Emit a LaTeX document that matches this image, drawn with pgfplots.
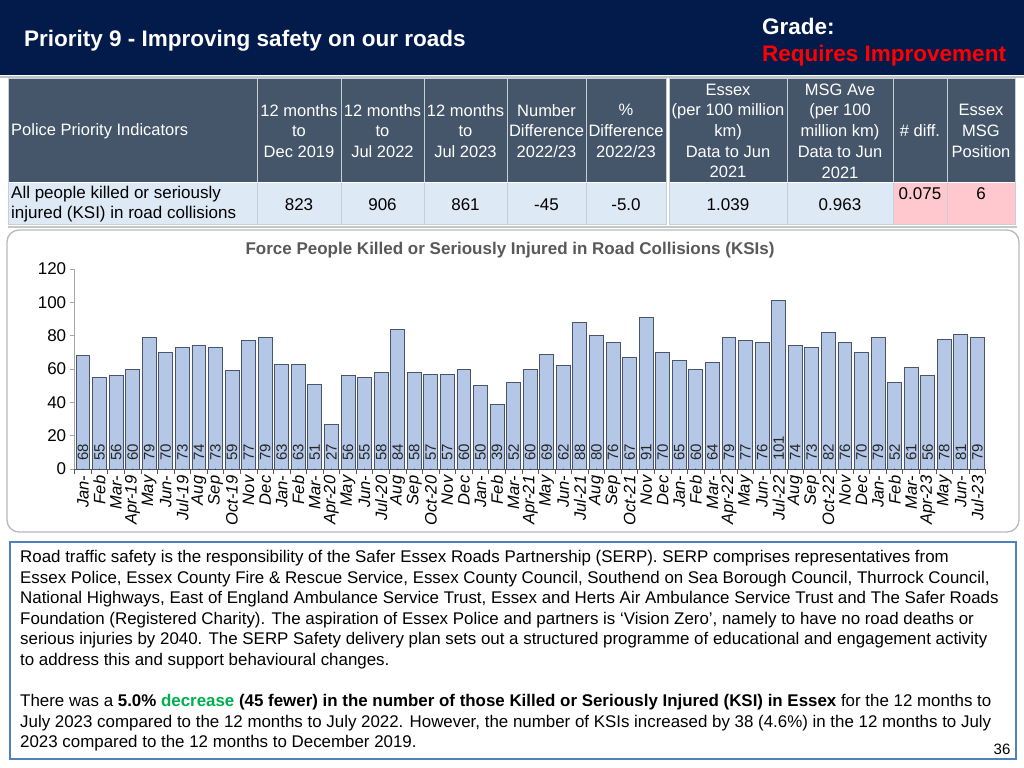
\documentclass[border=0pt]{standalone}
\usepackage{fontspec}
\setmainfont{Liberation Sans}
\usepackage{pgfplots}
\usepackage{pgfplotstable}
\pgfplotsset{compat=1.18}
\definecolor{navy}{RGB}{2,27,75}
\definecolor{hdr}{RGB}{69,85,106}
\definecolor{rowbg}{RGB}{221,233,245}
\definecolor{pinkc}{RGB}{255,199,206}
\definecolor{barfill}{RGB}{180,199,231}
\definecolor{bardraw}{RGB}{75,85,105}
\definecolor{titlegray}{RGB}{89,89,89}
\definecolor{boxblue}{RGB}{79,129,189}
\definecolor{greenw}{RGB}{0,176,80}
\definecolor{sepc}{RGB}{200,206,216}
\newcommand\fs[2]{\fontsize{#1bp}{#2bp}\selectfont}
\pgfplotstableread{
idx v z
0 68 0
1 55 0
2 56 0
3 60 0
4 79 0
5 70 0
6 73 0
7 74 0
8 73 0
9 59 0
10 77 0
11 79 0
12 63 0
13 63 0
14 51 0
15 27 0
16 56 0
17 55 0
18 58 0
19 84 0
20 58 0
21 57 0
22 57 0
23 60 0
24 50 0
25 39 0
26 52 0
27 60 0
28 69 0
29 62 0
30 88 0
31 80 0
32 76 0
33 67 0
34 91 0
35 70 0
36 65 0
37 60 0
38 64 0
39 79 0
40 77 0
41 76 0
42 101 0
43 74 0
44 73 0
45 82 0
46 76 0
47 70 0
48 79 0
49 52 0
50 61 0
51 56 0
52 78 0
53 81 0
54 79 0
}\ksidata
\begin{document}
\begin{tikzpicture}[x=1bp,y=-1bp]
\useasboundingbox (0,0) rectangle (1024,768);
\fill[white] (0,0) rectangle (1024,768);
% header band
\fill[navy] (0,0) rectangle (1024,75);
\draw[line width=2bp, color={rgb,255:red,190;green,195;blue,200}] (0,77) -- (1024,77);
\node[anchor=base west, inner sep=0pt, text=white, font=\fs{22.5}{26}\bfseries] at (24,47) {Priority 9 - Improving safety on our roads};
\node[anchor=base west, inner sep=0pt, text=white, font=\fs{22.5}{26}\bfseries] at (762,35) {Grade:};
\node[anchor=base west, inner sep=0pt, text=red, font=\fs{22.5}{26}\bfseries] at (762,62) {Requires Improvement};
% table
\fill[hdr] (8,79) rectangle (666,182);
\fill[hdr] (669,79) rectangle (1015,182);
\fill[rowbg] (8,182) rectangle (666,224);
\fill[rowbg] (669,182) rectangle (893,224);
\fill[pinkc] (893,182) rectangle (1015,224);
\foreach \xx in {257,341,424,507,586} {\draw[sepc, line width=1bp] (\xx,79) -- (\xx,224);}
\foreach \xx in {787,893,947} {\draw[sepc, line width=1bp] (\xx,79) -- (\xx,224);}
\draw[white, line width=1bp] (8,182) -- (666,182);
\draw[white, line width=1bp] (669,182) -- (1015,182);
\draw[sepc, line width=1bp] (8,79) rectangle (666,224);
\draw[sepc, line width=1bp] (669,79) rectangle (1015,224);
\draw[gray!45, line width=2bp] (8,227) -- (1017,227);
\begin{scope}[every node/.style={align=center, text=white, font=\fs{16.5}{20.7}, inner sep=0pt}]
\node[anchor=west] at (11,131) {Police Priority Indicators};
\node at (299,131) {12 months\\to\\Dec 2019};
\node at (382.5,131) {12 months\\to\\Jul 2022};
\node at (465.5,131) {12 months\\to\\Jul 2023};
\node at (546.5,131) {Number\\Difference\\2022/23};
\node at (626,131) {\%\\Difference\\2022/23};
\node at (728,131) {Essex\\(per 100 million\\km)\\Data to Jun\\2021};
\node at (840,131) {MSG Ave\\(per 100\\million km)\\Data to Jun\\2021};
\node at (920,131) {\# diff.};
\node at (981,131) {Essex\\MSG\\Position};
\end{scope}
\begin{scope}[every node/.style={align=center, text=black, font=\fs{17}{20.5}, inner sep=0pt}]
\node[anchor=west, align=left] at (11,204) {All people killed or seriously\\injured (KSI) in road collisions};
\node at (299,205) {823};
\node at (382.5,205) {906};
\node at (465.5,205) {861};
\node at (546.5,205) {-45};
\node at (626,205) {-5.0};
\node at (728,205) {1.039};
\node at (840,205) {0.963};
\node at (920,194) {0.075};
\node at (981,194) {6};
\end{scope}
% chart panel
\draw[gray!55, line width=1.3bp, rounded corners=12bp, fill=white] (7,230) rectangle (1019,532);
\node[font=\fs{17}{17}\bfseries, text=titlegray] at (510,250) {Force People Killed or Seriously Injured in Road Collisions (KSIs)};
\begin{axis}[
  at={(74.7bp,-469bp)}, anchor=south west,
  scale only axis, width=911bp, height=200bp,
  xmin=-0.5, xmax=54.5, ymin=0, ymax=120,
  axis x line*=bottom, axis y line*=left,
  x axis line style={-, draw=black!65, line width=0.8bp},
  y axis line style={-, draw=black!35, line width=0.8bp},
  xtick={0,...,54},
  xticklabels={Jan-,Feb,Mar-,Apr-19,May,Jun-,Jul-19,Aug,Sep,Oct-19,Nov,Dec,
    Jan-,Feb,Mar-,Apr-20,May,Jun-,Jul-20,Aug,Sep,Oct-20,Nov,Dec,
    Jan-,Feb,Mar-,Apr-21,May,Jun-,Jul-21,Aug,Sep,Oct-21,Nov,Dec,
    Jan-,Feb,Mar-,Apr-22,May,Jun-,Jul-22,Aug,Sep,Oct-22,Nov,Dec,
    Jan-,Feb,Mar-,Apr-23,May,Jun-,Jul-23},
  xtick style={draw=none},
  x tick label style={rotate=90, anchor=east, font=\fs{16.5}{16.5}\itshape, inner sep=1.5bp},
  extra x ticks={-0.5,0.5,...,54.5}, extra x tick labels={},
  extra x tick style={xtick style={draw=black!65, line width=0.8bp}},
  tick align=outside, major tick length=5bp,
  ytick={0,20,...,120},
  ytick style={draw=black!35, line width=0.8bp},
  y tick label style={font=\fs{17}{17}},
  /pgf/number format/assume math mode=true,
  clip=false,
]
\addplot[ybar, bar width=0.84, fill=barfill, draw=bardraw, line width=0.9bp] table[x=idx, y=v] {\ksidata};
\addplot[only marks, mark=*, mark size=0.1pt, mark options={draw=none, fill=none},
  nodes near coords, point meta=explicit,
  every node near coord/.append style={rotate=90, anchor=west, font=\fs{15}{15}, text=black!85, inner xsep=8bp, inner ysep=0pt}]
  table[x=idx, y=z, meta=v] {\ksidata};
\end{axis}
% text box
\draw[boxblue, line width=2bp] (10,542) rectangle (1016,759);
\node[anchor=north west, inner sep=0pt, align=left, font=\fs{16.9}{20.6}] at (20,550) {%
Road traffic safety is the responsibility of the Safer Essex Roads Partnership (SERP). SERP comprises representatives from\\
Essex Police, Essex County Fire \& Rescue Service, Essex County Council, Southend on Sea Borough Council, Thurrock Council,\\
National Highways, East of England Ambulance Service Trust, Essex and Herts Air Ambulance Service Trust and The Safer Roads\\
Foundation (Registered Charity). The aspiration of Essex Police and partners is ‘Vision Zero’, namely to have no road deaths or\\
serious injuries by 2040. The SERP Safety delivery plan sets out a structured programme of educational and engagement activity\\
to address this and support behavioural changes.\\[20.6bp]
There was a \textbf{5.0\% \textcolor{greenw}{decrease} (45 fewer) in the number of those Killed or Seriously Injured (KSI) in Essex} for the 12 months to\\
July 2023 compared to the 12 months to July 2022. However, the number of KSIs increased by 38 (4.6\%) in the 12 months to July\\
2023 compared to the 12 months to December 2019.};
\node[font=\fs{15}{15}] at (1002,749) {36};
\end{tikzpicture}
\end{document}
